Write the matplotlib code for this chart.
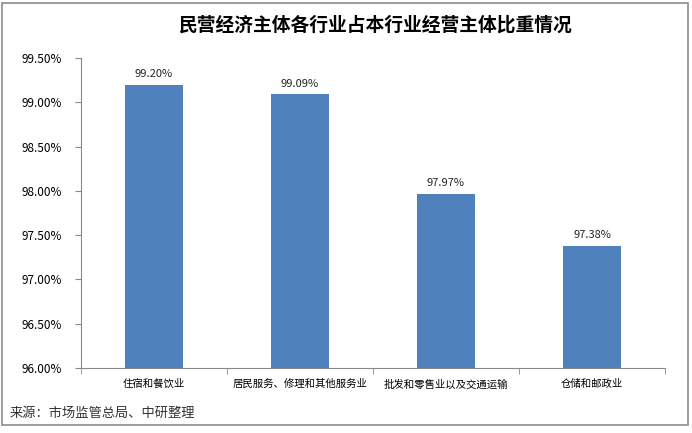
import matplotlib.pyplot as plt
from matplotlib.patches import Rectangle
from matplotlib.ticker import FuncFormatter, FixedLocator

plt.rcParams['font.family'] = ['Noto Sans CJK SC', 'DejaVu Sans']

categories = ["住宿和餐饮业", "居民服务、修理和其他服务业", "批发和零售业以及交通运输", "仓储和邮政业"]
shares = [99.20, 99.09, 97.97, 97.38]
yticks = [96.0, 96.5, 97.0, 97.5, 98.0, 98.5, 99.0, 99.5]

fig = plt.figure(figsize=(6.92, 4.33), dpi=100)
fig.patches.append(Rectangle((0.003, 0.018), 0.991, 0.975, transform=fig.transFigure,
                             fill=False, edgecolor="#8c8c8c", linewidth=1.2))
ax = fig.add_axes([0.117, 0.150, 0.844, 0.716])

x = range(len(categories))
ax.bar(x, shares, width=0.40, color="#4F81BD", zorder=2)
for xi, v in zip(x, shares):
    ax.text(xi, v + 0.06, f"{v:.2f}%", ha="center", va="bottom", fontsize=8, color="#222222")

ax.set_xlim(-0.5, len(categories) - 0.5)
ax.set_ylim(96.0, 99.5)
ax.set_yticks(yticks)
ax.yaxis.set_major_formatter(FuncFormatter(lambda v, p: f"{v:.2f}%"))
ax.set_xticks(list(x))
ax.set_xticklabels(categories, fontsize=7.5)
ax.xaxis.set_minor_locator(FixedLocator([i - 0.5 for i in range(len(categories) + 1)]))
ax.tick_params(axis="x", which="major", length=0, pad=8)
ax.tick_params(axis="x", which="minor", length=4, color="#888888")
ax.tick_params(axis="y", length=4, color="#888888", labelsize=8.5, pad=10)
for s in ["top", "right"]:
    ax.spines[s].set_visible(False)
for s in ["left", "bottom"]:
    ax.spines[s].set_color("#888888")

fig.text(0.543, 0.942, "民营经济主体各行业占本行业经营主体比重情况", ha="center", va="center",
         fontsize=13.5, fontweight="bold")
fig.text(0.014, 0.046, "来源：市场监管总局、中研整理", ha="left", va="center", fontsize=9.5, color="#333333")

fig.savefig("out.png", dpi=100)
